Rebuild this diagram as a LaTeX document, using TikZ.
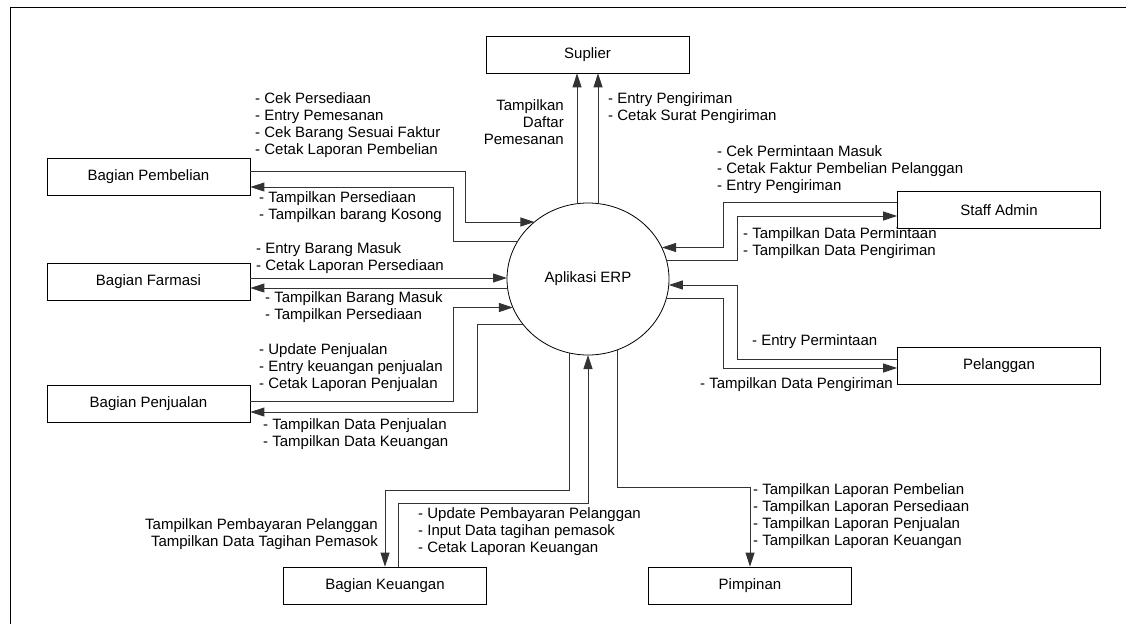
\documentclass[tikz,border=0pt]{standalone}
\usepackage{fontspec}
\setmainfont{Liberation Sans}
\usetikzlibrary{arrows.meta, positioning, calc, shapes.geometric}

\begin{document}
\begin{tikzpicture}[x=1pt, y=-1pt,
  font=\fontsize{15}{17}\selectfont,
  block/.style={draw, minimum width=203pt, minimum height=37pt, inner sep=0pt, line width=0.8pt},
  proc/.style={draw, ellipse, minimum width=162pt, minimum height=152pt, inner sep=0pt, line width=0.8pt},
  arrow/.style={-{Triangle[length=14pt, width=9pt]}, line width=0.9pt, black!80},
  lbl/.style={inner sep=0pt, align=left, anchor=west}]

  \useasboundingbox (0,0) rectangle (1126,624);
  \draw[line width=0.8pt] (10,624) -- (10,7) -- (1126,7);

  \node[proc]  (erp)   at (588,279)   {Aplikasi ERP};
  \node[block] (sup)   at (587.5,54.5) {Suplier};
  \node[block] (pemb)  at (148.5,177) {Bagian Pembelian};
  \node[block] (farm)  at (148.5,282) {Bagian Farmasi};
  \node[block] (penj)  at (148.5,404) {Bagian Penjualan};
  \node[block] (keu)   at (385,585.5) {Bagian Keuangan};
  \node[block] (pimp)  at (750,585.5) {Pimpinan};
  \node[block] (admin) at (999,210)   {Staff Admin};
  \node[block] (pel)   at (999,366)   {Pelanggan};

  % Bagian Pembelian
  \draw[arrow] (pemb.east |- 0,171) -| (465,222) -- ($(erp)+(-53.6,-57)$);
  \draw[arrow] ($(erp)+(-70.5,-37.5)$) -| (453,187) -- (pemb.east |- 0,187);
  \node[lbl] (tpemb1) at (255,125) {- Cek Persediaan\\- Entry Pemesanan\\- Cek Barang Sesuai Faktur\\- Cetak Laporan Pembelian};
  \node[lbl] (tpemb2) at (259,207.5) {- Tampilkan Persediaan\\- Tampilkan barang Kosong};

  % Bagian Farmasi
  \draw[arrow] (farm.east |- 0,278) -- ($(erp)+(-81,-1)$);
  \draw[arrow] ($(erp)+(-80.4,9)$) -- (farm.east |- 0,288);
  \node[lbl] (tfarm1) at (256,258.5) {- Entry Barang Masuk\\- Cetak Laporan Persediaan};
  \node[lbl] (tfarm2) at (265,307) {- Tampilkan Barang Masuk\\- Tampilkan Persediaan};

  % Bagian Penjualan
  \draw[arrow] (penj.east |- 0,401) -| (453,307.5) -- ($(erp)+(-75.1,28.5)$);
  \draw[arrow] ($(erp)+(-65.3,45)$) -| (477,412) -- (penj.east |- 0,412);
  \node[lbl] (tpenj1) at (259,368) {- Update Penjualan\\- Entry keuangan penjualan\\- Cetak Laporan Penjualan};
  \node[lbl] (tpenj2) at (263,434.5) {- Tampilkan Data Penjualan\\- Tampilkan Data Keuangan};

  % Suplier
  \draw[arrow] ($(erp)+(-11,-75.3)$) -- (sup.south -| 577,0);
  \draw[arrow] ($(erp)+(10,-75.4)$) -- (sup.south -| 598,0);
  \node[lbl, align=right, anchor=east] (tsup1) at (564,122) {Tampilkan\\Daftar\\Pemesanan};
  \node[lbl] (tsup2) at (608,108.5) {- Entry Pengiriman\\- Cetak Surat Pengiriman};

  % Staff Admin
  \draw[arrow] (admin.west |- 0,202) -| (723,247.5) -- ($(erp)+(74,-31.5)$);
  \draw[arrow] ($(erp)+(78.4,-19)$) -| (737,216) -- (admin.west |- 0,216);
  \node[lbl] (tadm1) at (717,170) {- Cek Permintaan Masuk\\- Cetak Faktur Pembelian Pelanggan\\- Entry Pengiriman};
  \node[lbl] (tadm2) at (743,243) {- Tampilkan Data Permintaan\\- Tampilkan Data Pengiriman};

  % Pelanggan
  \draw[arrow] (pel.west |- 0,359) -| (737,285) -- ($(erp)+(80.8,6)$);
  \draw[arrow] ($(erp)+(78.4,19)$) -| (723,368) -- (pel.west |- 0,368);
  \node[lbl] (tpel1) at (752,342) {- Entry Permintaan};
  \node[lbl, anchor=east] (tpel2) at (893,385) {- Tampilkan Data Pengiriman};

  % Bagian Keuangan
  \draw[arrow] ($(erp)+(-19,73.9)$) |- (385,490) -- (keu.north -| 385,0);
  \draw[arrow] (keu.north -| 398,0) |- (588,503) -- ($(erp)+(0,76)$);
  \node[lbl, align=right, anchor=east] (tkeu1) at (378,534) {Tampilkan Pembayaran Pelanggan\\Tampilkan Data Tagihan Pemasok};
  \node[lbl] (tkeu2) at (418,532) {- Update Pembayaran Pelanggan\\- Input Data tagihan pemasok\\- Cetak Laporan Keuangan};

  % Pimpinan
  \draw[arrow] ($(erp)+(29,71)$) |- (pimp.north |- 0,487) -- (pimp.north);
  \node[lbl] (tpimp) at (753,516.5) {- Tampilkan Laporan Pembelian\\- Tampilkan Laporan Persediaan\\- Tampilkan Laporan Penjualan\\- Tampilkan Laporan Keuangan};
\end{tikzpicture}
\end{document}
